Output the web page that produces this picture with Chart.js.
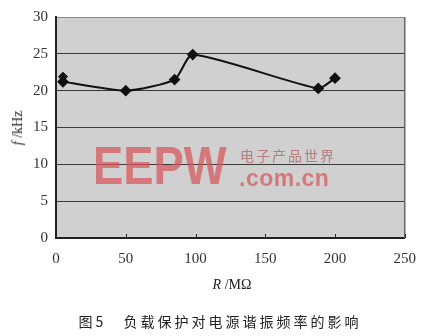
<!DOCTYPE html>
<html>
<head>
<meta charset="utf-8">
<script src="https://cdn.jsdelivr.net/npm/chart.js@4"></script>
<style>
  html, body { margin: 0; padding: 0; background: #fff; }
  #wrap { position: relative; width: 428px; height: 336px; overflow: hidden; }
  canvas { position: absolute; left: 0; top: 0; }
  .txt { position: absolute; white-space: nowrap; color: #222; }
  #ytitle { left: 18px; top: 128px; transform: translate(-50%, -50%) rotate(-90deg);
            font: 14px "Liberation Serif", serif; }
  #xtitle { left: 232px; top: 285px; transform: translate(-50%, -50%);
            font: 14px "Liberation Serif", serif; }
  #caption { left: 220px; top: 321px; transform: translate(-50%, -50%);
             font: 14px "Noto Sans CJK SC", sans-serif; letter-spacing: 3px; }
  #wm1 { left: 93px; top: 134px; font: bold 54px "Liberation Sans", sans-serif;
         color: rgba(214, 86, 90, 0.72); transform-origin: 0 0; transform: scaleX(0.84); }
  #wm2 { left: 240px; top: 145px; font: 14px "Noto Sans CJK SC", sans-serif;
         color: rgba(170, 90, 90, 0.7); letter-spacing: 2px; }
  #wm3 { left: 239px; top: 165px; font: bold 23px "Liberation Sans", sans-serif;
         color: rgba(214, 86, 90, 0.72); letter-spacing: 0.5px; }
</style>
</head>
<body>
<div id="wrap">
  <canvas id="chart" width="428" height="336"></canvas>
  <div class="txt" id="wm1">EEPW</div>
  <div class="txt" id="wm2">电子产品世界</div>
  <div class="txt" id="wm3">.com.cn</div>
  <div class="txt" id="ytitle"><i>f</i> /kHz</div>
  <div class="txt" id="xtitle"><i>R</i> /MΩ</div>
  <div class="txt" id="caption">图5　负载保护对电源谐振频率的影响</div>
</div>
<script>
// R (MΩ) e f (kHz)
const resistance = [5, 50, 85, 98, 188, 200];
const frequency = [21.2, 20.0, 21.5, 24.9, 20.3, 21.7];
// ponto extra sobreposto em R = 5
const extraR = [5];
const extraF = [21.9];
const xTicks = [0, 50, 100, 150, 200, 250];
const yTicks = [0, 5, 10, 15, 20, 25, 30];

// fundo cinza da área do gráfico + borda direita + marcas internas do eixo x
const plotBg = {
  id: 'plotBg',
  beforeDraw(chart) {
    const { ctx, chartArea: a } = chart;
    ctx.save();
    ctx.fillStyle = '#d0d0d0';
    ctx.fillRect(a.left, a.top, a.right - a.left, a.bottom - a.top);
    ctx.restore();
  },
  afterDatasetsDraw(chart) {
    const { ctx, chartArea: a, scales } = chart;
    ctx.save();
    ctx.strokeStyle = '#666';
    ctx.lineWidth = 1.5;
    ctx.beginPath();
    ctx.moveTo(a.right, a.top);
    ctx.lineTo(a.right, a.bottom);
    ctx.stroke();
    ctx.strokeStyle = '#222';
    ctx.lineWidth = 1;
    xTicks.forEach(v => {
      const px = Math.round(scales.x.getPixelForValue(v)) + 0.5;
      ctx.beginPath();
      ctx.moveTo(px, a.bottom);
      ctx.lineTo(px, a.bottom - 4);
      ctx.stroke();
    });
    ctx.restore();
  }
};

const tickFont = { family: '"Liberation Serif", serif', size: 15 };

new Chart(document.getElementById('chart'), {
  type: 'scatter',
  data: {
    datasets: [{
      data: resistance.map((r, i) => ({ x: r, y: frequency[i] })),
      showLine: true,
      borderColor: '#111',
      backgroundColor: '#111',
      borderWidth: 2,
      tension: 0.2,
      pointStyle: 'rectRot',
      pointRadius: 4.5,
      pointHoverRadius: 4.5
    }, {
      data: extraR.map((r, i) => ({ x: r, y: extraF[i] })),
      showLine: false,
      borderColor: '#111',
      backgroundColor: '#111',
      pointStyle: 'rectRot',
      pointRadius: 4.5
    }]
  },
  options: {
    responsive: false,
    animation: false,
    layout: { padding: { top: 14, right: 11, left: 0, bottom: 0 } },
    plugins: { legend: { display: false }, tooltip: { enabled: false } },
    scales: {
      x: {
        type: 'linear', min: 0, max: 250,
        afterBuildTicks: s => { s.ticks = xTicks.map(v => ({ value: v })); },
        afterFit: s => { s.height = 98; },
        grid: { display: false, drawTicks: false },
        border: { color: '#222', width: 2 },
        ticks: { color: '#333', font: tickFont, padding: 12 }
      },
      y: {
        type: 'linear', min: 0, max: 30,
        afterBuildTicks: s => { s.ticks = yTicks.map(v => ({ value: v })); },
        afterFit: s => { s.width = 56; },
        grid: {
          color: ctx => (ctx.tick && ctx.tick.value === 30 ? '#8a8a8a' : '#3a3a3a'),
          lineWidth: 1,
          drawTicks: false
        },
        border: { color: '#222', width: 2 },
        ticks: { color: '#333', font: tickFont, padding: 8 }
      }
    }
  },
  plugins: [plotBg]
});
</script>
</body>
</html>
